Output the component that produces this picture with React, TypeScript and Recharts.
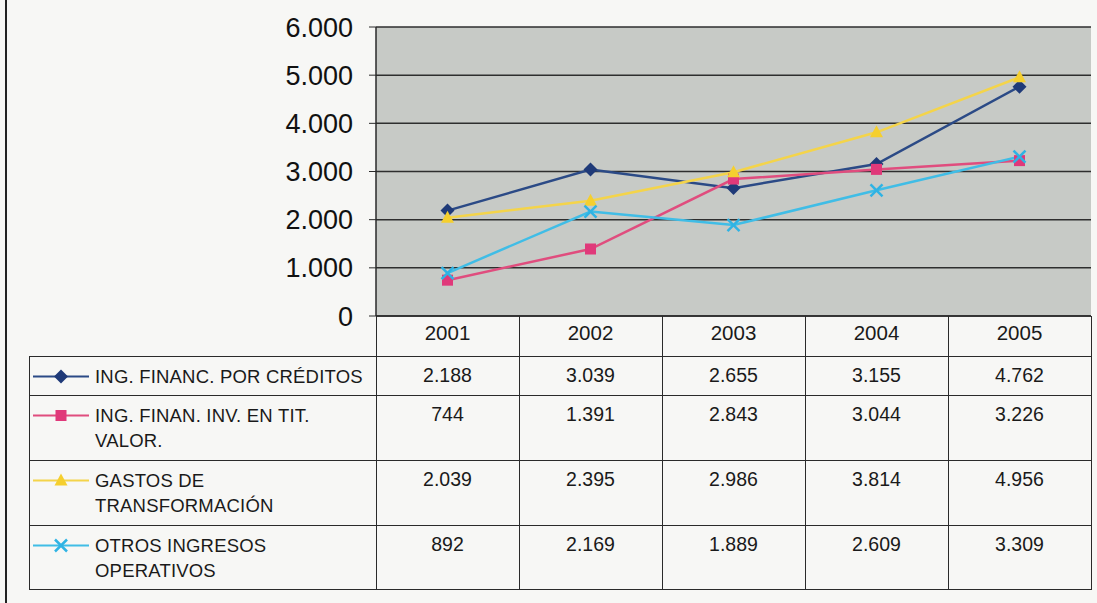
import { ComposedChart, Line, XAxis, YAxis, CartesianGrid } from 'recharts';

const years = ['2001', '2002', '2003', '2004', '2005'];
const creditos = [2188, 3039, 2655, 3155, 4762];
const titValor = [744, 1391, 2843, 3044, 3226];
const transformacion = [2039, 2395, 2986, 3814, 4956];
const otrosIngresos = [892, 2169, 1889, 2609, 3309];
const yTicks = [0, 1000, 2000, 3000, 4000, 5000, 6000];

const labelCreditos = ['ING. FINANC. POR CRÉDITOS'];
const labelTitValor = ['ING. FINAN. INV. EN TIT.', 'VALOR.'];
const labelTransformacion = ['GASTOS DE', 'TRANSFORMACIÓN'];
const labelOtros = ['OTROS INGRESOS', 'OPERATIVOS'];

const series = [
  { key: 'creditos', values: creditos, label: labelCreditos, color: '#2b4a86', markerColor: '#1f3a78', marker: 'diamond' },
  { key: 'titValor', values: titValor, label: labelTitValor, color: '#e04d7e', markerColor: '#e0397a', marker: 'square' },
  { key: 'transformacion', values: transformacion, label: labelTransformacion, color: '#f4d44a', markerColor: '#f5cf2e', marker: 'triangle' },
  { key: 'otros', values: otrosIngresos, label: labelOtros, color: '#40bde6', markerColor: '#2fb3e4', marker: 'cross' },
];

const data = years.map((year, i) => {
  const row: Record<string, string | number> = { year };
  series.forEach((s) => {
    row[s.key] = s.values[i];
  });
  return row;
});

const fmt = (v: number) => String(v).replace(/\B(?=(\d{3})+(?!\d))/g, '.');

const FONT = '"Liberation Sans", Arial, Helvetica, sans-serif';
const LINE = '#2a2a2a';

// layout of the chart + data table
const W = 1097;
const H = 603;
const PLOT_LEFT = 376;
const PLOT_RIGHT = 1091;
const PLOT_TOP = 27;
const PLOT_BOTTOM = 316;
const COL_W = (PLOT_RIGHT - PLOT_LEFT) / years.length;
const TABLE_LEFT = 29;
const HEADER_BOTTOM = 356;
const ROW_H = [39, 65, 65, 64];

function Marker({ kind, cx, cy, color }: { kind: string; cx: number; cy: number; color: string }) {
  if (kind === 'diamond') {
    return <polygon points={`${cx},${cy - 7} ${cx + 7},${cy} ${cx},${cy + 7} ${cx - 7},${cy}`} fill={color} />;
  }
  if (kind === 'square') {
    return <rect x={cx - 5.5} y={cy - 5.5} width={11} height={11} fill={color} />;
  }
  if (kind === 'triangle') {
    return <polygon points={`${cx},${cy - 7} ${cx + 6.5},${cy + 5} ${cx - 6.5},${cy + 5}`} fill={color} />;
  }
  return (
    <g stroke={color} strokeWidth={2.5}>
      <line x1={cx - 6} y1={cy - 6} x2={cx + 6} y2={cy + 6} />
      <line x1={cx - 6} y1={cy + 6} x2={cx + 6} y2={cy - 6} />
    </g>
  );
}

function DataTable() {
  const rowTops: number[] = [];
  let t = HEADER_BOTTOM;
  ROW_H.forEach((h) => {
    rowTops.push(t);
    t += h;
  });
  const tableBottom = t;
  const hLine = (y: number, x1: number, x2: number, k: string) => (
    <div key={k} style={{ position: 'absolute', left: x1, top: y, width: x2 - x1 + 1, height: 0, borderTop: `1px solid ${LINE}` }} />
  );
  const vLine = (x: number, y1: number, y2: number, k: string) => (
    <div key={k} style={{ position: 'absolute', left: x, top: y1, width: 0, height: y2 - y1, borderLeft: `1px solid ${LINE}` }} />
  );
  const lines = [
    hLine(HEADER_BOTTOM, TABLE_LEFT, PLOT_RIGHT, 'h0'),
    ...rowTops.slice(1).map((y, i) => hLine(y, TABLE_LEFT, PLOT_RIGHT, `h${i + 1}`)),
    hLine(tableBottom, TABLE_LEFT, PLOT_RIGHT, 'hb'),
    vLine(TABLE_LEFT, HEADER_BOTTOM, tableBottom, 'vl'),
    ...Array.from({ length: years.length + 1 }, (_, i) => vLine(Math.round(PLOT_LEFT + i * COL_W), PLOT_BOTTOM, tableBottom, `v${i}`)),
  ];
  return (
    <>
      {lines}
      {series.map((s, r) => (
        <div key={s.key}>
          <svg style={{ position: 'absolute', left: 33, top: rowTops[r] + 8, overflow: 'visible' }} width={56} height={25}>
            <line x1={0} y1={12.5} x2={56} y2={12.5} stroke={s.color} strokeWidth={2} />
            <Marker kind={s.marker} cx={28} cy={12.5} color={s.markerColor} />
          </svg>
          <div
            style={{
              position: 'absolute',
              left: 95,
              top: rowTops[r] + 8,
              fontSize: 18.5,
              lineHeight: '25px',
              letterSpacing: 0.2,
              color: '#1a1a1a',
              whiteSpace: 'nowrap',
            }}
          >
            {s.label.map((ln) => (
              <div key={ln}>{ln}</div>
            ))}
          </div>
          {s.values.map((v, c) => (
            <div
              key={c}
              style={{
                position: 'absolute',
                left: PLOT_LEFT + c * COL_W,
                width: COL_W,
                top: rowTops[r] + 7,
                textAlign: 'center',
                fontSize: 19.5,
                lineHeight: '25px',
                color: '#1a1a1a',
              }}
            >
              {fmt(v)}
            </div>
          ))}
        </div>
      ))}
    </>
  );
}

export default function App() {
  return (
    <div style={{ position: 'absolute', left: 0, top: 0, width: W, height: H, background: '#f7f7f5', fontFamily: FONT, overflow: 'hidden' }}>
      <div style={{ position: 'absolute', left: 5, top: 0, width: 2, height: H, background: '#222' }} />
      <ComposedChart
        width={W}
        height={H}
        data={data}
        margin={{ top: PLOT_TOP, right: W - PLOT_RIGHT, bottom: H - PLOT_BOTTOM - 40, left: 0 }}
        style={{ position: 'absolute', left: 0, top: 0 }}
      >
        <CartesianGrid vertical={false} stroke="#2e2e2e" strokeWidth={1.5} fill="#c7cac6" fillOpacity={1} />
        <XAxis
          dataKey="year"
          height={40}
          interval={0}
          padding={{ left: COL_W / 2, right: COL_W / 2 }}
          tickLine={false}
          tickSize={0}
          tickMargin={9}
          axisLine={{ stroke: LINE, strokeWidth: 1.5 }}
          tick={{ fontSize: 20.5, fill: '#1a1a1a', fontFamily: FONT }}
        />
        <YAxis
          domain={[0, 6000]}
          ticks={yTicks}
          interval={0}
          width={PLOT_LEFT}
          tickFormatter={fmt}
          tickSize={7}
          tickMargin={16}
          axisLine={{ stroke: LINE, strokeWidth: 1.5 }}
          tickLine={{ stroke: LINE }}
          tick={{ fontSize: 27, fill: '#111', fontFamily: FONT }}
        />
        <YAxis
          yAxisId="frame"
          orientation="right"
          width={0}
          domain={[0, 6000]}
          tick={false}
          tickLine={false}
          axisLine={{ stroke: '#8a8a8a', strokeWidth: 1.5 }}
        />
        {series.map((s) => (
          <Line
            key={s.key}
            dataKey={s.key}
            type="linear"
            stroke={s.color}
            strokeWidth={2.5}
            isAnimationActive={false}
            activeDot={false}
            dot={(p: any) => <Marker key={`${s.key}-${p.index}`} kind={s.marker} cx={p.cx} cy={p.cy} color={s.markerColor} />}
          />
        ))}
      </ComposedChart>
      <DataTable />
    </div>
  );
}
